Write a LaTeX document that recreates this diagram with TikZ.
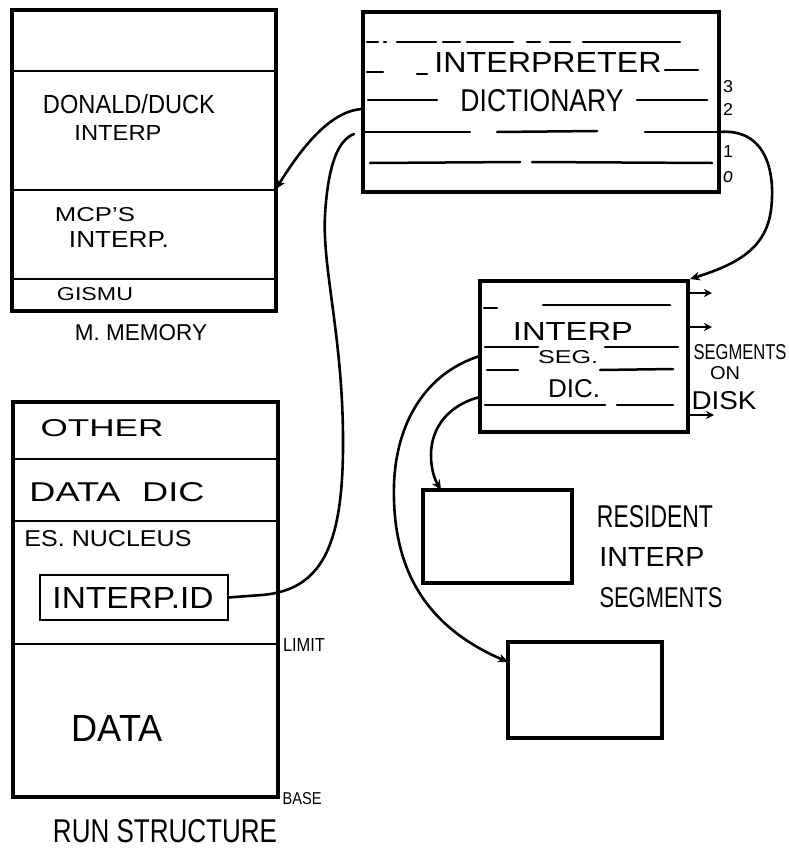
\documentclass[tikz,border=0pt]{standalone}
\usepackage{graphicx}
\usepackage{fontspec}
\setmainfont{Liberation Sans}
\usetikzlibrary{arrows.meta,calc}
% lettering set to a given width and cap height (in pt)
\newcommand\handtext[3]{\resizebox{#1pt}{#2pt}{#3}}
\tikzset{
  box/.style={draw, line width=3.2pt, inner sep=0pt, outer sep=0pt},
  divider/.style={line width=2.8pt},
  frag/.style={line width=2.5pt, line cap=round},
  conn/.style={line width=2.6pt, line cap=round},
  tip/.style={-{Stealth[length=10pt,width=9pt]}},
  lbl/.style={inner sep=0pt, outer sep=0pt, anchor=center}
}
\begin{document}
\begin{tikzpicture}[x=1pt,y=-1pt]
\useasboundingbox (0,0) rectangle (789,849);

% ---------------- main memory ----------------
\node[box, minimum width=264pt, minimum height=301pt] (mem) at (144,160.5) {};
\draw[divider] (mem.west |- 0,71)  -- (mem.east |- 0,71);
\draw[divider] (mem.west |- 0,190) -- (mem.east |- 0,190);
\draw[divider] (mem.west |- 0,279) -- (mem.east |- 0,279);
\node[lbl] (donald) at (129,104) {\handtext{172}{19}{DONALD/DUCK}};
\node[lbl] (interpA) at (118,133) {\handtext{87}{15}{INTERP}};
\node[lbl] (mcps) at (95,215) {\handtext{80}{14}{MCP'S}};
\node[lbl] (interpB) at (119,239) {\handtext{100}{16}{INTERP.}};
\node[lbl] (gismu) at (95,294) {\handtext{76}{13}{GISMU}};
\node[lbl] (memname) at (141,333) {\handtext{132}{16}{M. MEMORY}};

% ---------------- run structure ----------------
\node[box, minimum width=265pt, minimum height=395pt] (run) at (145.5,599.5) {};
\draw[divider] (run.west |- 0,459) -- (run.east |- 0,459);
\draw[divider] (run.west |- 0,521) -- (run.east |- 0,521);
\draw[divider] (run.west |- 0,644) -- (run.east |- 0,644);
\node[lbl] (other) at (102,428) {\handtext{123}{17}{OTHER}};
\node[lbl] (datadic) at (117,492) {\handtext{175}{19}{DATA\hspace{0.6em}DIC}};
\node[lbl] (nucleus) at (108,539) {\handtext{167}{16}{ES. NUCLEUS}};
\node[box, line width=2.4pt, minimum width=188pt, minimum height=45pt] (iid) at (134,597.5) {};
\node[lbl] (iidtext) at (133,597.5) {\handtext{161}{21}{INTERP.ID}};
\node[lbl] (data) at (117,728) {\handtext{91}{26}{DATA}};
\node[lbl] (limit) at (304,645) {\handtext{42}{13}{LIMIT}};
\node[lbl] (base) at (302,799) {\handtext{39}{12}{BASE}};
\node[lbl] (runname) at (165,831) {\handtext{224}{23}{RUN STRUCTURE}};

% ---------------- interpreter dictionary ----------------
\node[box, minimum width=356pt, minimum height=180pt] (dict) at (541,102) {};
\foreach \a/\b in {367/378,384/386,397/436,443/460,467/513,527/540,550/570,583/680}
  \draw[frag] (\a,42) -- (\b,42);
\draw[frag] (367,72) -- (383,72);
\draw[frag] (417,74) -- (427,74);
\draw[frag] (665,70) -- (698,70);
\draw[frag] (368,100) -- (437,100);
\draw[frag] (637,100) -- (707,100);
\draw[frag] (dict.west |- 0,132) -- (470,132);
\draw[frag] (497,132) -- (597,131);
\draw[frag] (645,132) -- (dict.east |- 0,132);
\draw[frag] (370,163) -- (520,162);
\draw[frag] (532,162) -- (712,163);
\node[lbl] (interpreter) at (548,62) {\handtext{227}{20}{INTERPRETER}};
\node[lbl] (dictionary) at (542,101) {\handtext{163}{22}{DICTIONARY}};
\node[lbl] (n3) at (728,87) {\handtext{10}{12}{3}};
\node[lbl] (n2) at (728,109) {\handtext{10}{12}{2}};
\node[lbl] (n1) at (728,151) {\handtext{10}{12}{1}};
\node[lbl] (n0) at (728,177) {\handtext{10}{11}{\itshape o}};

% ---------------- interp segment dictionary ----------------
\node[box, minimum width=208pt, minimum height=151pt] (seg) at (584,356.5) {};
\draw[frag] (484,308) -- (497,308);
\draw[frag] (543,305) -- (670,305);
\draw[frag] (485,347) -- (538,347);
\draw[frag] (605,347) -- (678,347);
\draw[frag] (487,370) -- (518,370);
\draw[frag] (600,370) -- (673,369);
\draw[frag] (485,405) -- (605,405);
\draw[frag] (617,405) -- (673,405);
\node[lbl] (segA) at (573,331) {\handtext{120}{18}{INTERP}};
\node[lbl] (segB) at (568,357) {\handtext{60}{13}{SEG.}};
\node[lbl] (segC) at (574,389) {\handtext{52}{18}{DIC.}};

% segments on disk
\coordinate (d1) at (712,293);
\coordinate (d2) at (712,327);
\coordinate (d3) at (714,415);
\draw[conn, line width=2.2pt, -{Stealth[length=8pt,width=8pt]}] (seg.east |- d1) -- (d1);
\draw[conn, line width=2.2pt, -{Stealth[length=8pt,width=8pt]}] (seg.east |- d2) -- (d2);
\draw[conn, line width=2.2pt, -{Stealth[length=8pt,width=8pt]}] (seg.east |- d3) -- (d3);
\node[lbl] (diskA) at (740,352) {\handtext{93}{15}{SEGMENTS}};
\node[lbl] (diskB) at (725,373) {\handtext{30}{13}{ON}};
\node[lbl] (diskC) at (724,401) {\handtext{65}{18}{DISK}};

% ---------------- resident segments ----------------
\node[box, minimum width=149pt, minimum height=93pt] (res) at (497.5,536.5) {};
\node[box, minimum width=154pt, minimum height=96pt] (low) at (585,690) {};
\node[lbl] (resA) at (655,517) {\handtext{116}{22}{RESIDENT}};
\node[lbl] (resB) at (652,557) {\handtext{105}{19}{INTERP}};
\node[lbl] (resC) at (661,598) {\handtext{123}{20}{SEGMENTS}};

% ---------------- connectors ----------------
% dictionary entry to the interpreter held in main memory
\coordinate (dA) at (dict.west |- 0,109);
\coordinate (mA) at (mem.east |- 0,189);
\draw[conn, tip] (dA) .. controls (330,110) and (300,150) .. (mA);

% interpreter id to dictionary
\coordinate (dB) at (354,134);
\draw[conn] (iid.east) -- (262,595)
  .. controls (322,590) and (342,545) .. (343,450)
  .. controls (344,340) and (322,270) .. (325,215)
  .. controls (328,165) and (338,140) .. (dB);

% dictionary to segment dictionary
\coordinate (dC) at (dict.east |- 0,132);
\coordinate (sC) at (690,279);
\draw[conn, tip] (dC) .. controls (765,128) and (776,170) .. (771,210)
  .. controls (766,248) and (738,264) .. (sC);

% segment dictionary to the resident segments
\coordinate (sD) at (seg.west |- 0,356);
\coordinate (lD) at (low.west |- 0,662);
\draw[conn, tip] (sD) .. controls (428,372) and (396,420) .. (394,485)
  .. controls (392,565) and (422,625) .. (lD);
\coordinate (sE) at (seg.west |- 0,397);
\coordinate (rE) at (441,490);
\draw[conn, tip] (sE) .. controls (448,405) and (431,428) .. (431,455)
  .. controls (431,470) and (435,480) .. (rE);
\end{tikzpicture}
\end{document}
